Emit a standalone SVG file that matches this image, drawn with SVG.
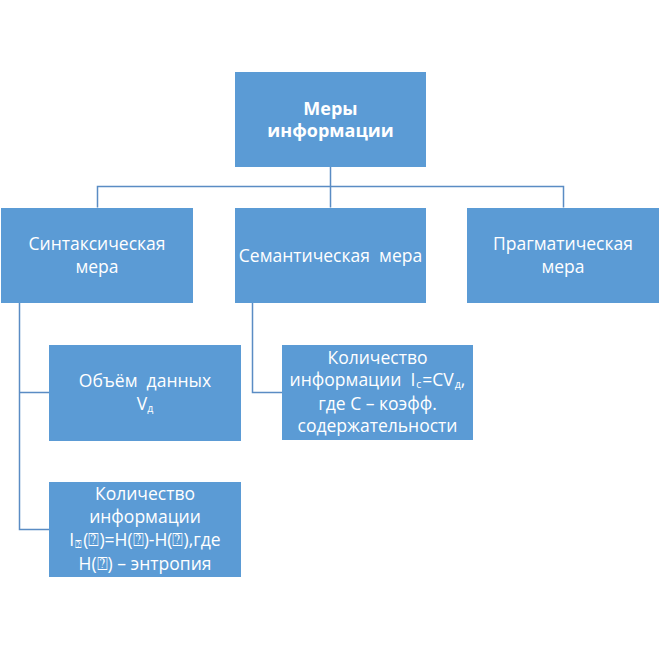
<svg xmlns="http://www.w3.org/2000/svg" width="660" height="648" viewBox="0 0 660 648">
<style>
.box{fill:#5B9BD5;}
.t{font-family:"Open Sans","Noto Sans","DejaVu Sans",sans-serif;font-size:17.5px;fill:#FFFFFF;text-anchor:middle;}
.b{font-weight:bold;font-size:18px;}
.c{fill:none;stroke:#5A8CC4;stroke-width:1.5;}
.sub{font-size:10.5px;baseline-shift:-2px;}
</style>
<rect width="660" height="648" fill="#FFFFFF"/>
<g id="connectors">
<path class="c" d="M330.5,166.5 V186.5 M97.5,207.5 V186.5 H563.5 V207.5 M330.5,186.5 V207.5"/>
<path class="c" d="M19.5,303 V529.5 H49 M19.5,392.5 H49"/>
<path class="c" d="M252.5,303 V392.5 H282"/>
</g>
<g id="root">
<rect class="box" x="235" y="72" width="191" height="95"/>
<text class="t b" x="330.5" y="115">Меры</text>
<text class="t b" x="330.5" y="137">информации</text>
</g>
<g id="syntax">
<rect class="box" x="1" y="208" width="192" height="95"/>
<text class="t" x="97" y="250">Синтаксическая</text>
<text class="t" x="97" y="273">мера</text>
</g>
<g id="semantic">
<rect class="box" x="235" y="208" width="191" height="95"/>
<text class="t" x="330.5" y="262" xml:space="preserve">Семантическая  мера</text>
</g>
<g id="pragmatic">
<rect class="box" x="467" y="208" width="192" height="95"/>
<text class="t" x="563" y="250">Прагматическая</text>
<text class="t" x="563" y="273">мера</text>
</g>
<g id="volume">
<rect class="box" x="49" y="345" width="192" height="96"/>
<text class="t" x="145" y="387" xml:space="preserve">Объём  данных</text>
<text class="t" x="145" y="410">V<tspan class="sub">д</tspan></text>
</g>
<g id="amount-syntax">
<rect class="box" x="49" y="482" width="192" height="95"/>
<text class="t" x="145" y="500">Количество</text>
<text class="t" x="145" y="523">информации</text>
<text class="t" x="145" y="546">I<tspan class="sub" dx="1">⍰</tspan><tspan dx="1">(⍰)=H(⍰)-H(⍰),где</tspan></text>
<text class="t" x="145" y="570">H(⍰) – энтропия</text>
</g>
<g id="amount-semantic">
<rect class="box" x="282" y="345" width="191" height="95"/>
<text class="t" x="377.5" y="364">Количество</text>
<text class="t" x="377.5" y="386" xml:space="preserve">информации  I<tspan class="sub" dx="1">с</tspan><tspan dx="1">=CV</tspan><tspan class="sub" dx="1">д</tspan>,</text>
<text class="t" x="377.5" y="410">где С – коэфф.</text>
<text class="t" x="377.5" y="432">содержательности</text>
</g>
</svg>
